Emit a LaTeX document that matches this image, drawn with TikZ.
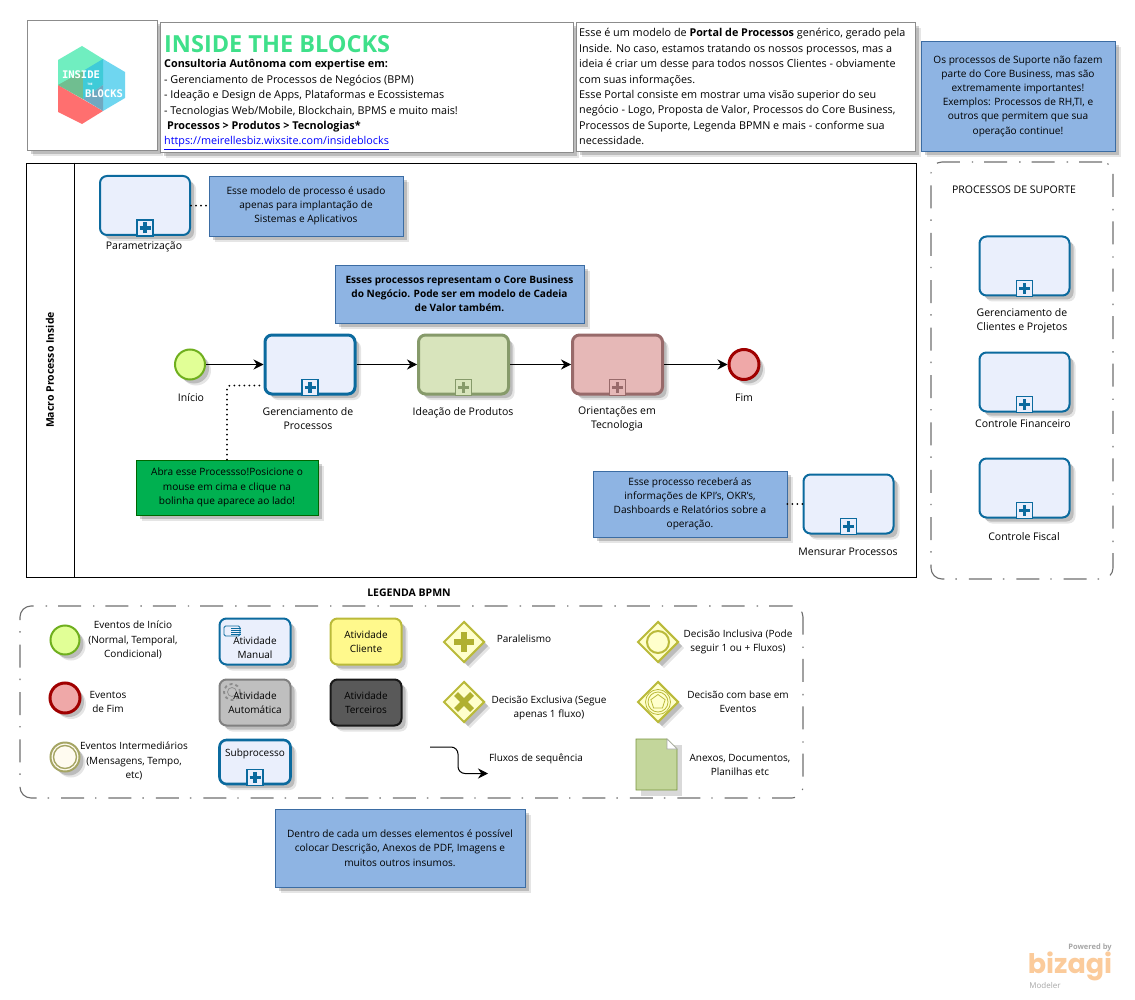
\documentclass[tikz,border=0pt]{standalone}
\usepackage{fontspec}
\setmainfont{Open Sans}
\newfontfamily\bizfont{Poppins}
\newfontfamily\logofont{DejaVu Sans Mono}
\usepackage{xcolor}
\definecolor{SUBcolor}{HTML}{0B6A9E}
\definecolor{SUBfill}{HTML}{EAEFFC}
\definecolor{IDEAcolor}{HTML}{869A6A}
\definecolor{IDEAfill}{HTML}{D8E4BC}
\definecolor{TECcolor}{HTML}{986A6A}
\definecolor{TECfill}{HTML}{E6B8B7}
\definecolor{NOTEcolor}{HTML}{3B6CA3}
\definecolor{NOTEfill}{HTML}{8EB4E3}
\definecolor{GATEcolor}{HTML}{BABA3A}
\definecolor{GATEfill}{HTML}{FFFFCC}
\definecolor{GATEmark}{HTML}{B0B030}
\definecolor{GROUPcolor}{HTML}{6E6E6E}
\definecolor{TITLEcolor}{HTML}{3FE08A}
\definecolor{STARTcolor}{HTML}{6FAF1E}
\definecolor{STARTfill}{HTML}{E1FF96}
\definecolor{ENDcolor}{HTML}{A00000}
\definecolor{ENDfill}{HTML}{EFA8A8}
\definecolor{INTERcolor}{HTML}{A5A564}
\definecolor{INTERfill}{HTML}{FFFBF0}
\definecolor{DOCcolor}{HTML}{77933C}
\definecolor{DOCfill}{HTML}{C3D69B}
\definecolor{LOGOgreen}{HTML}{70EEC0}
\definecolor{LOGOblue}{HTML}{6FD6F0}
\definecolor{LOGOred}{HTML}{FF6F6F}
\definecolor{LOGOmoss}{HTML}{70BE90}
\definecolor{LOGOteal}{HTML}{3FCBD8}
\definecolor{LOGOslate}{HTML}{70A8C0}
\definecolor{BIZcolor}{HTML}{FBCB9B}
\usepackage{tikz}
\usetikzlibrary{math, shadows, shapes.geometric, arrows.meta}

\newcommand{\bodyfont}{\fontsize{10.5pt}{14.2pt}\selectfont}
\newcommand{\notefont}{\fontsize{10.1pt}{14.2pt}\selectfont}
\newcommand{\legfont}{\fontsize{10pt}{14.2pt}\selectfont}
\newcommand{\headfont}{\fontsize{10.8pt}{15.35pt}\selectfont}

\tikzset{
    softshadow/.style={drop shadow={shadow xshift=6pt, shadow yshift=-6pt, opacity=0.10, fill=black},
        drop shadow={shadow xshift=4pt, shadow yshift=-4pt, opacity=0.18, fill=black}},
    subtask/.style={draw=SUBcolor, fill=SUBfill, line width=2pt, rounded corners=7pt, minimum width=90pt, minimum height=59pt, softshadow},
    coretask/.style={subtask, line width=3pt},
    legendtask/.style={draw=SUBcolor, fill=SUBfill, line width=2pt, rounded corners=7pt, minimum width=71pt, minimum height=46pt, align=center, inner sep=0pt, font=\legfont, softshadow},
    markbox/.style={line width=1.2pt, minimum size=16pt, inner sep=0pt},
    plusline/.style={line width=3.6pt},
    notebox/.style={draw=NOTEcolor, fill=NOTEfill, line width=0.8pt, align=center, inner sep=0pt, font=\notefont, softshadow},
    infobox/.style={draw=black!45, fill=white, line width=0.8pt, softshadow},
    startev/.style={circle, draw=STARTcolor, fill=STARTfill, line width=2pt, minimum size=30pt, inner sep=0pt, softshadow},
    endev/.style={circle, draw=ENDcolor, fill=ENDfill, line width=3pt, minimum size=30pt, inner sep=0pt, softshadow},
    gate/.style={diamond, draw=GATEcolor, fill=GATEfill, line width=2pt, minimum size=41pt, aspect=1, inner sep=0pt, softshadow},
    grouprect/.style={draw=GROUPcolor, line width=1.1pt, rounded corners=11pt, dash pattern=on 23pt off 11pt on 1.4pt off 12pt},
    seqline/.style={-{Stealth[length=10pt, width=10pt]}, line width=1pt, black},
    assocline/.style={line width=2pt, line cap=round, dash pattern=on 0pt off 5pt, rounded corners=3pt},
    legtext/.style={font=\legfont},
}

\begin{document}
\begin{tikzpicture}[x=1pt, y=-1pt, every node/.style={font=\bodyfont, align=center}]
    \tikzmath{%
        \coreh=364.5;
        \supx=1024.5;
    };
    \useasboundingbox (0, 0) rectangle (1135, 1000);

    % top row
    \node [infobox, minimum width=130pt, minimum height=130pt] (logobox) at (92, 85) {};
    \fill [LOGOgreen] (58, 60) -- (82, 46) -- (103, 59) -- (103, 85) -- (83, 99) -- (58, 85) -- cycle;
    \fill [LOGOblue] (103, 59) -- (125, 72) -- (125, 98) -- (103, 111) -- cycle;
    \fill [LOGOred] (58, 85) -- (103, 111) -- (82, 124) -- (58, 112) -- cycle;
    \fill [LOGOmoss] (58, 85) -- (83, 71) -- (83, 99) -- cycle;
    \fill [LOGOteal] (83, 71) -- (103, 59) -- (103, 85) -- (83, 99) -- cycle;
    \fill [LOGOslate] (83, 99) -- (103, 85) -- (103, 111) -- cycle;
    \node [white, font=\logofont\bfseries\fontsize{10.5pt}{10.5pt}\selectfont] (logoa) at (81, 75) {INSIDE};
    \node [white, font=\logofont\bfseries\fontsize{3pt}{3pt}\selectfont] (logob) at (90, 84) {THE};
    \node [white, font=\logofont\bfseries\fontsize{10.5pt}{10.5pt}\selectfont] (logoc) at (104, 94) {BLOCKS};

    \node [infobox, minimum width=413pt, minimum height=130pt] (titlebox) at (366.5, 87) {};
    \node [anchor=west, inner sep=0pt, TITLEcolor, font=\fontsize{23.5pt}{23.5pt}\selectfont\bfseries] (titletext) at (164, 44) {INSIDE THE BLOCKS};
    \node [anchor=north west, inner sep=0pt, align=left, font=\headfont] (titlebody) at (164, 59.5) {%
        \textbf{Consultoria Autônoma com expertise em:}\\
        - Gerenciamento de Processos de Negócios (BPM)\\
        - Ideação e Design de Apps, Plataformas e Ecossistemas\\
        - Tecnologias Web/Mobile, Blockchain, BPMS e muito mais!\\
        \textbf{\ Processos > Produtos > Tecnologias*}\\
        \textcolor{blue}{\underline{https://meirellesbiz.wixsite.com/insideblocks}}};

    \node [infobox, minimum width=339pt, minimum height=129pt] (portalbox) at (745.5, 86.5) {};
    \node [anchor=north west, inner sep=0pt, align=left, font=\headfont] (portaltext) at (579, 28.5) {%
        Esse é um modelo de \textbf{Portal de Processos} genérico, gerado pela\\
        Inside. No caso, estamos tratando os nossos processos, mas a\\
        ideia é criar um desse para todos nossos Clientes - obviamente\\
        com suas informações.\\
        Esse Portal consiste em mostrar uma visão superior do seu\\
        negócio - Logo, Proposta de Valor, Processos do Core Business,\\
        Processos de Suporte, Legenda BPMN e mais - conforme sua\\
        necessidade.};

    \node [notebox, minimum width=194pt, minimum height=110pt] (supnote) at (1018, 96) {%
        Os processos de Suporte não fazem\\
        parte do Core Business, mas são\\
        extremamente importantes!\\
        Exemplos: Processos de RH,TI, e\\
        outros que permitem que sua\\
        operação continue!};

    % macro process
    \node [draw, line width=0.9pt, minimum width=890pt, minimum height=414pt] (pool) at (471, 370) {};
    \draw [line width=0.9pt] ([xshift=49pt]pool.north west) -- ([xshift=49pt]pool.south west);
    \node [rotate=90, font=\bodyfont\bfseries] (pooltext) at (50, 370) {Macro Processo Inside};

    \node [subtask] (param) at (145, 205.5) {};
    \node (paramtext) at (144, 247) {Parametrização};
    \node [notebox, minimum width=194pt, minimum height=60pt] (paramnote) at (306, 206) {%
        Esse modelo de processo é usado\\
        apenas para implantação de\\
        Sistemas e Aplicativos};
    \draw [assocline] (param) -- (paramnote);

    \node [notebox, minimum width=249pt, minimum height=58pt, font=\notefont\bfseries] (corenote) at (459.5, 294) {%
        Esses processos representam o Core Business\\
        do Negócio. Pode ser em modelo de Cadeia\\
        de Valor também.};

    \node [startev] (inicio) at (190, \coreh) {};
    \node (iniciotext) at (191, 398) {Início};
    \node [coretask] (gerproc) at (310, \coreh) {};
    \node (gerproctext) at (308, 418.5) {Gerenciamento de\\Processos};
    \node [coretask, draw=IDEAcolor, fill=IDEAfill] (ideia) at (463.5, \coreh) {};
    \node (ideiatext) at (463, 413) {Ideação de Produtos};
    \node [coretask, draw=TECcolor, fill=TECfill] (orient) at (617.5, \coreh) {};
    \node (orienttext) at (617, 419) {Orientações em\\Tecnologia};
    \node [endev] (fim) at (744, \coreh) {};
    \node (fimtext) at (744, 398) {Fim};

    \draw [seqline] (inicio) -- (gerproc);
    \draw [seqline] (gerproc) -- (ideia);
    \draw [seqline] (ideia) -- (orient);
    \draw [seqline] (orient) -- (fim);

    \node [notebox, draw=green!40!black, fill={rgb,255:red,0;green,176;blue,80}, minimum width=182pt, minimum height=55pt] (abra) at (227, 487.5) {%
        Abra esse Processso!Posicione o\\
        mouse em cima e clique na\\
        bolinha que aparece ao lado!};
    \draw [assocline] (abra.north) |- ([yshift=-21pt]gerproc.west);

    \node [notebox, minimum width=194pt, minimum height=66pt] (mensnote) at (690, 504) {%
        Esse processo receberá as\\
        informações de KPI's, OKR's,\\
        Dashboards e Relatórios sobre a\\
        operação.};
    \node [subtask] (mens) at (848.5, 504) {};
    \node (menstext) at (848, 552) {Mensurar Processos};
    \draw [assocline] (mensnote) -- (mens);

    % support processes
    \node [grouprect, minimum width=182pt, minimum height=417pt] (supgroup) at (1022, 370.5) {};
    \node (suptitle) at (1014, 190) {PROCESSOS DE SUPORTE};
    \node [subtask] (supa) at (\supx, 266) {};
    \node (supatext) at (1022, 320.5) {Gerenciamento de\\Clientes e Projetos};
    \node [subtask] (supb) at (\supx, 382) {};
    \node (supbtext) at (1023, 424) {Controle Financeiro};
    \node [subtask] (supc) at (\supx, 488) {};
    \node (supctext) at (1024, 537) {Controle Fiscal};

    % legend
    \node [font=\bodyfont\bfseries] (legtitle) at (409, 593) {LEGENDA BPMN};
    \node [grouprect, minimum width=783pt, minimum height=192pt] (leggroup) at (411.5, 702) {};

    \node [startev, minimum size=29pt] (legstart) at (65, 640) {};
    \node [legtext] (legstarttext) at (133, 640) {Eventos de Início\\(Normal, Temporal,\\Condicional)};
    \node [endev] (legend) at (65, 698) {};
    \node [legtext] (legendtext) at (108, 702) {Eventos\\de Fim};
    \node [startev, draw=INTERcolor, fill=INTERfill, minimum size=29pt] (leginter) at (65, 757) {};
    \node [circle, draw=INTERcolor, line width=1.4pt, minimum size=23pt, inner sep=0pt] (leginterb) at (leginter) {};
    \node [legtext] (leginttext) at (134, 761) {Eventos Intermediários\\(Mensagens, Tempo,\\etc)};

    \node [legendtask] (legman) at (255, 641.5) {};
    \draw [SUBcolor, line width=0.8pt, rounded corners=1.5pt] (224, 626) rectangle (240, 636);
    \foreach \i in {0, ..., 3} {%
            \draw [SUBcolor, line width=0.6pt] (231, {628+2*\i}) -- ++(10, 0);
        }
    \node [legtext] (legmantext) at (255, 648) {Atividade\\Manual};
    \node [legendtask, draw=GATEcolor, fill=yellow!45] (legcli) at (366, 641.5) {Atividade\\Cliente};
    \node [legendtask, draw=black!50, fill=black!25] (legauto) at (255, 702.5) {};
    \node [circle, draw=black!45, dashed, line width=1.8pt, minimum size=16pt, inner sep=0pt] (leggear) at (232, 692) {};
    \node [circle, draw=black!45, line width=0.7pt, minimum size=9pt, inner sep=0pt] (leggearb) at (232, 692) {};
    \node [legtext] (legautotext) at (255, 702.5) {Atividade\\Automática};
    \node [legendtask, draw=black!90, fill=black!65] (legter) at (366, 702.5) {Atividade\\Terceiros};
    \node [legendtask, line width=2.6pt, minimum height=44pt] (legsub) at (255, 762) {};
    \node [legtext] (legsubtext) at (255, 754) {Subprocesso};

    \node [gate] (legpar) at (464, 642) {};
    \draw [plusline, line width=5.5pt, GATEmark] ([xshift=-10pt]legpar.center) -- ([xshift=10pt]legpar.center);
    \draw [plusline, line width=5.5pt, GATEmark] ([yshift=-10pt]legpar.center) -- ([yshift=10pt]legpar.center);
    \node [legtext] (legpartext) at (524, 639) {Paralelismo};
    \node [gate] (legexc) at (464, 702) {};
    \draw [plusline, line width=5.5pt, GATEmark] ([shift={(-8pt,-8pt)}]legexc.center) -- ([shift={(8pt,8pt)}]legexc.center);
    \draw [plusline, line width=5.5pt, GATEmark] ([shift={(-8pt,8pt)}]legexc.center) -- ([shift={(8pt,-8pt)}]legexc.center);
    \node [legtext] (legexctext) at (549, 708) {Decisão Exclusiva (Segue\\apenas 1 fluxo)};

    \node [gate] (leginc) at (658, 642) {};
    \node [circle, draw=GATEcolor, line width=2pt, minimum size=22pt, inner sep=0pt] (legincb) at (leginc) {};
    \node [legtext] (leginctext) at (738, 642) {Decisão Inclusiva (Pode\\seguir 1 ou + Fluxos)};
    \node [gate] (legevt) at (658, 702) {};
    \node [circle, draw=GATEcolor, line width=0.8pt, minimum size=25pt, inner sep=0pt] (legevtb) at (legevt) {};
    \node [circle, draw=GATEcolor, line width=0.8pt, minimum size=20pt, inner sep=0pt] (legevtc) at (legevt) {};
    \node [regular polygon, regular polygon sides=5, draw=GATEcolor, line width=0.8pt, minimum size=15pt, inner sep=0pt] (legevtd) at (legevt) {};
    \node [legtext] (legevttext) at (738, 702) {Decisão com base em\\Eventos};

    \coordinate (flowa) at (430, 747);
    \coordinate (flowb) at (488, 773.5);
    \draw [seqline, rounded corners=7pt] (flowa) -- (458, 747) -- (458, 773.5) -- (flowb);
    \node [legtext] (flowtext) at (536, 759) {Fluxos de sequência};

    \fill [black, opacity=0.15] (641, 745) rectangle (682, 796);
    \draw [fill=DOCfill, draw=DOCcolor, line width=0.8pt] (636, 739) -- (667, 739) -- (677, 749) -- (677, 790) -- (636, 790) -- cycle;
    \draw [fill=white, draw=black!35, line width=0.6pt] (667, 739) -- (677, 749) -- (667, 749) -- cycle;
    \node [legtext] (legdoctext) at (740, 765) {Anexos, Documentos,\\Planilhas etc};

    \node [notebox, minimum width=250pt, minimum height=78pt] (bottomnote) at (400, 848) {%
        Dentro de cada um desses elementos é possível\\
        colocar Descrição, Anexos de PDF, Imagens e\\
        muitos outros insumos.};

    % subprocess marks
    \foreach \t/\c/\f in {param/SUBcolor/SUBfill, gerproc/SUBcolor/SUBfill, ideia/IDEAcolor/IDEAfill, orient/TECcolor/TECfill, mens/SUBcolor/SUBfill, supa/SUBcolor/SUBfill, supb/SUBcolor/SUBfill, supc/SUBcolor/SUBfill, legsub/SUBcolor/SUBfill} {%
            \node [markbox, draw=\c, fill=\f] (mark\t) at ([yshift=8pt]\t.south) {};
            \draw [plusline, \c] ([xshift=-5.5pt]mark\t.center) -- ([xshift=5.5pt]mark\t.center);
            \draw [plusline, \c] ([yshift=-5.5pt]mark\t.center) -- ([yshift=5.5pt]mark\t.center);
        }

    % powered by
    \node [BIZcolor, inner sep=0pt, font=\bizfont\bfseries\fontsize{27pt}{27pt}\selectfont] (bizagi) at (1070, 966) {bizagi};
    \node [black!35, inner sep=0pt, font=\fontsize{7.5pt}{7.5pt}\selectfont\bfseries] (powered) at (1090, 948) {Powered by};
    \node [black!35, inner sep=0pt, font=\fontsize{8pt}{8pt}\selectfont] (modeler) at (1045, 985.5) {Modeler};

\end{tikzpicture}
\end{document}
